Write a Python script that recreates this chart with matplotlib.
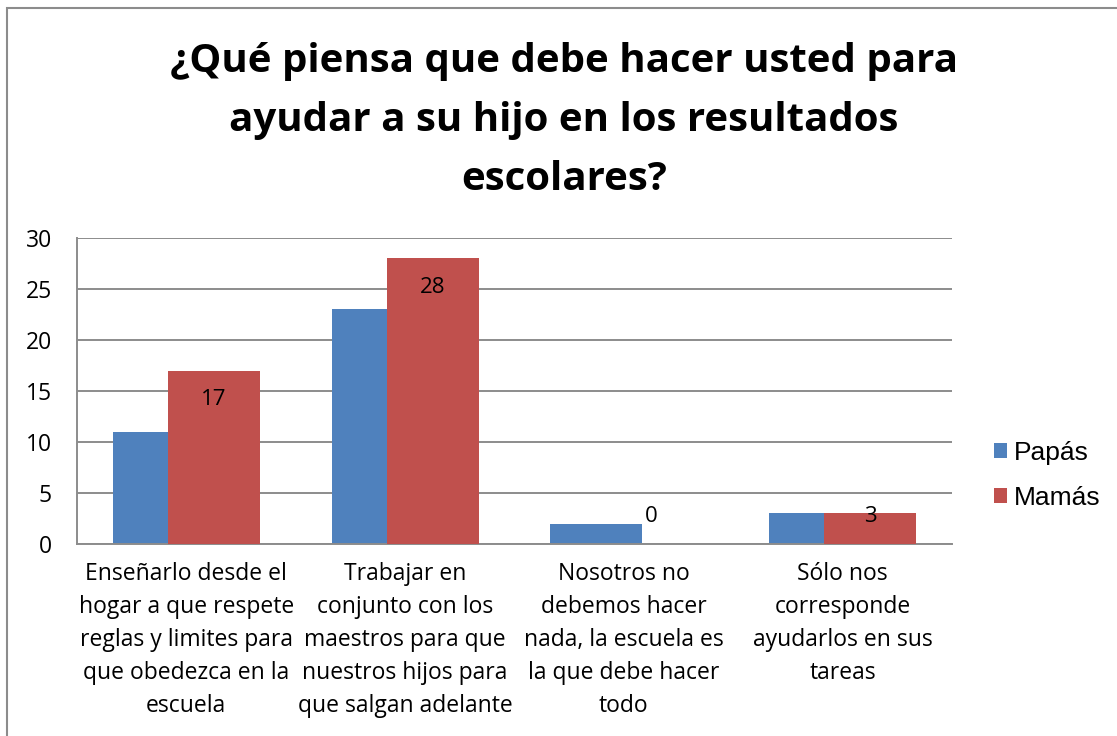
import numpy as np
import matplotlib
matplotlib.use("Agg")
import matplotlib.pyplot as plt
from matplotlib.patches import Rectangle

categories = [
    "Enseñarlo desde el\nhogar a que respete\nreglas y limites para\nque obedezca en la\nescuela",
    "Trabajar en\nconjunto con los\nmaestros para que\nnuestros hijos para\nque salgan adelante",
    "Nosotros no\ndebemos hacer\nnada, la escuela es\nla que debe hacer\ntodo",
    "Sólo nos\ncorresponde\nayudarlos en sus\ntareas",
]
papas = [11, 23, 2, 3]
mamas = [17, 28, 0, 3]
title = "¿Qué piensa que debe hacer usted para\nayudar a su hijo en los resultados\nescolares?"

blue = "#4F81BD"
red = "#C0504D"
grid = "#8C8C8C"

fig = plt.figure(figsize=(11.17, 7.36), dpi=100)
ax = fig.add_axes([0.0689, 0.2609, 0.7834, 0.4157])

x = np.arange(len(categories))
w = 0.42
off = 0.126
ax.bar(x - off, papas, w, color=blue, label="Papás", zorder=2)
ax.bar(x + off, mamas, w, color=red, label="Mamás", zorder=3)

for xi, v in zip(x, mamas):
    if v > 3:
        ax.annotate(str(v), (xi + off, v), xytext=(0, -21), textcoords="offset points",
                    ha="center", va="center", fontsize=16, family="Open Sans", zorder=4)
    else:
        ax.annotate(str(v), (xi + off, 0), xytext=(0, 20), textcoords="offset points",
                    ha="center", va="center", fontsize=16, family="Open Sans", zorder=4)

ax.set_xlim(-0.5, len(categories) - 0.5)
ax.set_ylim(0, 30)
ax.set_yticks(range(0, 31, 5))
ax.yaxis.grid(True, color=grid, linewidth=1.4, zorder=0)
ax.set_axisbelow(True)
for s in ["top", "right"]:
    ax.spines[s].set_visible(False)
for s in ["left", "bottom"]:
    ax.spines[s].set_color(grid)
    ax.spines[s].set_linewidth(1.4)
ax.tick_params(axis="both", length=0, labelsize=16.5)
ax.tick_params(axis="y", pad=18)
ax.tick_params(axis="x", pad=13)
ax.set_xticks(x)
ax.set_xticklabels(categories, family="Open Sans", fontsize=16.5, linespacing=1.5)
for lab in ax.get_yticklabels():
    lab.set_family("Open Sans")

fig.text(0.505, 0.943, title, ha="center", va="top", fontsize=29, fontweight="bold",
         family="Open Sans", linespacing=1.66)

leg = ax.legend(loc="center left", bbox_to_anchor=(1.021, 0.225), frameon=False,
                prop={"family": "Liberation Sans", "size": 19}, handlelength=0.5,
                handleheight=0.5, handletextpad=0.25, labelspacing=0.8)

fig.patches.append(Rectangle((7 / 1117, -0.1), 1.2, 0.1 + 728 / 736, transform=fig.transFigure,
                             fill=False, edgecolor="#8C8C8C", linewidth=1.5))

fig.savefig("out.png", dpi=100)
